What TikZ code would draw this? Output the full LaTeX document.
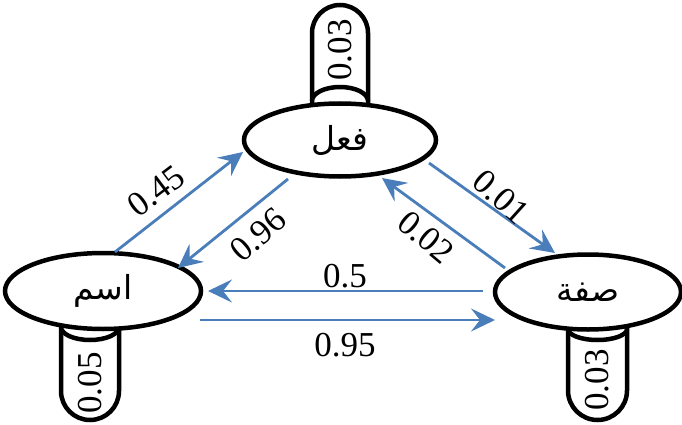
\documentclass[tikz,border=0pt]{standalone}
\usepackage{fontspec}
\setmainfont{Liberation Serif}
\newfontfamily\arabicfont[Script=Arabic]{DejaVu Sans}
\TeXXeTstate=1
\usetikzlibrary{shapes.geometric,arrows.meta,calc}
\definecolor{flowblue}{HTML}{4A7EBB}
\tikzset{
  state/.style={ellipse, draw=black, line width=4.5pt, fill=white,
    minimum width=192pt, minimum height=73pt, inner sep=0pt,
    font=\arabicfont\fontsize{33}{35}\selectfont},
  loopbody/.style={draw=black, line width=4.5pt, fill=white},
  flow/.style={draw=flowblue, line width=2.8pt,
    -{Stealth[length=24pt,width=23pt,inset=9pt]}},
  prob/.style={font=\fontsize{35}{37}\selectfont, inner sep=0pt},
  loopprob/.style={font=\fontsize{35}{37}\selectfont, inner sep=0pt, rotate=90}
}
\begin{document}
\begin{tikzpicture}[x=1pt,y=1pt]
\useasboundingbox (0,0) rectangle (682,-425);

% self-loop tubes, drawn first so the states cover their open ends
\draw[loopbody] (312,-104) -- (312,-33) arc[start angle=180,end angle=0,radius=28] -- (368,-104);
\draw[loopbody] (312,-101) arc[start angle=180,end angle=0,x radius=28,y radius=14];
\node[loopprob] (lfil) at (340,-50) {0.03};

\draw[loopbody] (61,-300) -- (61,-391) arc[start angle=180,end angle=360,radius=29] -- (119,-300);
\draw[loopbody] (61,-327) arc[start angle=180,end angle=360,x radius=29,y radius=13];
\node[loopprob] (lism) at (90,-383) {0.05};

\draw[loopbody] (568,-300) -- (568,-390.5) arc[start angle=180,end angle=360,radius=29.5] -- (627,-300);
\draw[loopbody] (568,-329) arc[start angle=180,end angle=360,x radius=29.5,y radius=11];
\node[loopprob] (lsifa) at (597.5,-380) {0.03};

% states
\node[state] (fil) at (340,-140) {\beginR فعل\endR};
\node[state, minimum width=196pt, minimum height=76pt] (ism) at (103,-291) {\beginR اسم\endR};
\node[state, minimum width=186pt, minimum height=75pt] (sifa) at (588,-292) {\beginR صفة\endR};

% transitions
\draw[flow] ([shift={(12,39)}]ism.center) -- ([shift={(-97,-12)}]fil.center);
\draw[flow] ([shift={(-52,-39)}]fil.center) -- ([shift={(75,23)}]ism.center);
\draw[flow] ([shift={(89,-23)}]fil.center) -- ([shift={(-33,39)}]sifa.center);
\draw[flow] ([shift={(-83,24)}]sifa.center) -- ([shift={(42,-38)}]fil.center);
\draw[flow] ([shift={(-105,1)}]sifa.center) -- ([shift={(105,0)}]ism.center);
\draw[flow] ([shift={(97,-29)}]ism.center) -- ([shift={(-93,-28)}]sifa.center);

% transition probabilities
\node[prob, rotate=37] (p1) at (156,-191) {0.45};
\node[prob, rotate=41] (p2) at (258,-235) {0.96};
\node[prob, rotate=-42] (p3) at (501,-197) {0.01};
\node[prob, rotate=-40] (p4) at (426,-237) {0.02};
\node[prob] (p5) at (345,-276) {0.5};
\node[prob] (p6) at (345,-345) {0.95};
\end{tikzpicture}
\end{document}
